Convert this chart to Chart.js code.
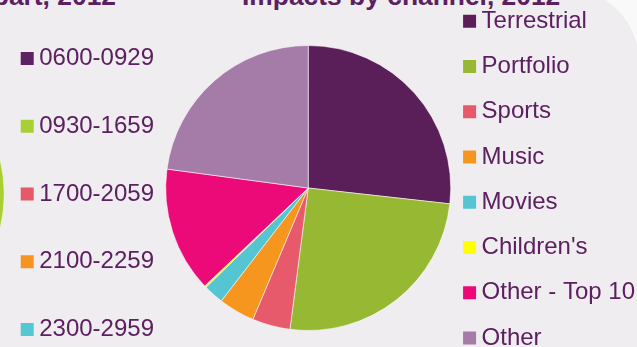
<!DOCTYPE html>
<html>
<head>
<meta charset="utf-8">
<script src="https://cdn.jsdelivr.net/npm/chart.js@4.4.0/dist/chart.umd.min.js"></script>
<style>
  html, body { margin: 0; padding: 0; }
  body { width: 637px; height: 347px; overflow: hidden; position: relative; background: #f9f9fa; font-family: "Liberation Sans", Arial, sans-serif; }
  #panel { position: absolute; left: -20px; top: -12px; width: 659px; height: 400px; background: #efedf0; border-top-right-radius: 74px; }
  .title { position: absolute; top: -17px; font-size: 26.4px; font-weight: bold; line-height: 1; color: #5c2060; white-space: nowrap; }
  #title-left { left: -300px; width: 416px; text-align: right; }
  #title-right { left: 242px; }
  canvas { position: absolute; }
  #chart-daypart { left: -260px; top: -6.5px; }
  #chart-channel { left: 161px; top: -12px; }
</style>
</head>
<body>
<div id="panel"></div>
<div class="title" id="title-left">Impacts by daypart, 2012</div>
<div class="title" id="title-right">Impacts by channel, 2012</div>
<canvas id="chart-daypart" width="424" height="400"></canvas>
<canvas id="chart-channel" width="484" height="400"></canvas>
<script>
// daypart pie is almost entirely off the left edge, only its legend and a sliver show
const dayparts = ['0600-0929', '0930-1659', '1700-2059', '2100-2259', '2300-2959'];
const daypartShares = [10, 30, 33, 17, 10];
const daypartColors = ['#5e2163', '#a8cf34', '#e5596a', '#f7931e', '#55c6d3'];

const channels = ['Terrestrial', 'Portfolio', 'Sports', 'Music', 'Movies', "Children's", 'Other - Top 10', 'Other'];
const channelShares = [26.8, 25.3, 4.3, 4.1, 2.3, 0.2, 14.2, 22.9];
const channelColors = ['#5a1f58', '#97b832', '#e65a6b', '#f7961f', '#56c5d2', '#ffff00', '#ec0a78', '#a57ba8'];

Chart.defaults.font.family = '"Liberation Sans", Arial, sans-serif';
Chart.defaults.color = '#5c2060';

function renderPie(canvasId, labels, values, colors, legendOpts) {
    const ctx = document.getElementById(canvasId);
    if (!ctx) return;

    new Chart(ctx, {
        type: 'pie',
        data: {
            labels,
            datasets: [{
                data: values,
                backgroundColor: colors,
                borderColor: 'rgba(255, 255, 255, 0.55)',
                borderWidth: 1,
                radius: 142.5,
            }]
        },
        options: {
            responsive: false,
            animation: false,
            devicePixelRatio: 1,
            layout: { padding: { left: legendOpts.padLeft } },
            plugins: {
                tooltip: { enabled: false },
                legend: {
                    position: 'right',
                    align: legendOpts.align,
                    labels: {
                        color: '#5c2060',
                        font: { size: legendOpts.fontSize },
                        padding: legendOpts.padding,
                        usePointStyle: true,
                        pointStyle: 'rect',
                        // near-zero width keeps the square close to its label
                        boxWidth: 0.01,
                        boxHeight: 13,
                        generateLabels: chart => Chart.overrides.doughnut.plugins.legend.labels
                            .generateLabels(chart).map(l => ({ ...l, lineWidth: 0 })),
                    }
                }
            }
        }
    });
}

renderPie('chart-daypart', dayparts, daypartShares, daypartColors, { fontSize: 24, padding: 43.75, align: 'center', padLeft: 0 });
renderPie('chart-channel', channels, channelShares, channelColors, { fontSize: 24, padding: 21.26, align: 'start', padLeft: 7.1 });
</script>
</body>
</html>
